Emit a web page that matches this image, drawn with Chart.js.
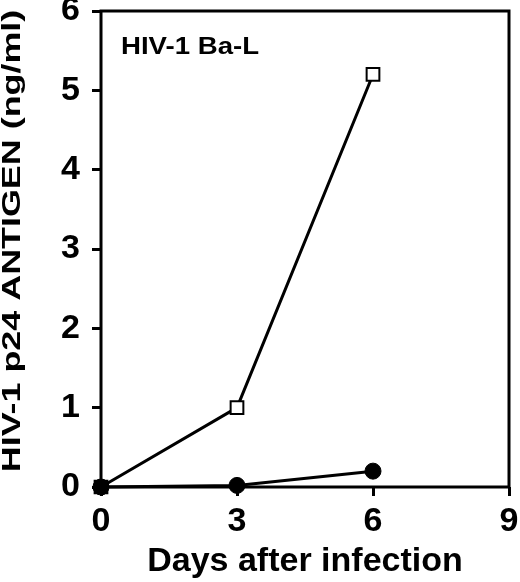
<!DOCTYPE html>
<html>
<head>
<meta charset="utf-8">
<script src="https://cdn.jsdelivr.net/npm/chart.js@4.4.1/dist/chart.umd.min.js"></script>
<style>
  html, body { margin: 0; padding: 0; background: #fff; }
  #wrap { width: 520px; height: 582px; }
</style>
</head>
<body>
<div id="wrap"><canvas id="c" width="520" height="582"></canvas></div>
<script>
// values
var days = [0, 3, 6];
var openSquares = [0, 1.0, 5.2];
var filledCircles = [0, 0.02, 0.2];
var xTickValues = [0, 3, 6, 9];
var yTickValues = [0, 1, 2, 3, 4, 5, 6];

var yTitle = 'HIV-1 p24 ANTIGEN (ng/ml)';
var xTitle = 'Days after infection';
var panelLabel = 'HIV-1 Ba-L';

var FONT = "'Liberation Sans', Arial, Helvetica, sans-serif";

function toPoints(ys) {
    return days.map((d, i) => ({ x: d, y: ys[i] }));
}

// box round the plot + stretched labels
var framePlugin = {
    id: 'frame',
    beforeDatasetsDraw(chart) {
        var a = chart.chartArea, ctx = chart.ctx;
        ctx.save();
        ctx.strokeStyle = '#000';
        ctx.lineWidth = 3;
        ctx.strokeRect(a.left, a.top, a.right - a.left, a.bottom - a.top);
        ctx.restore();
    },
    afterDraw(chart) {
        var a = chart.chartArea, ctx = chart.ctx;
        ctx.save();
        ctx.fillStyle = '#000';
        ctx.font = 'bold 24px ' + FONT;
        ctx.textBaseline = 'middle';
        ctx.translate(a.left + 20, a.top + 36);
        ctx.scale(1.15, 1);
        ctx.fillText(panelLabel, 0, 0);
        ctx.restore();

        ctx.save();
        ctx.fillStyle = '#000';
        ctx.font = 'bold 26px ' + FONT;
        ctx.textAlign = 'center';
        ctx.textBaseline = 'middle';
        ctx.translate(13, 241);
        ctx.rotate(-Math.PI / 2);
        ctx.scale(1.38, 1);
        ctx.fillText(yTitle, 0, 0);
        ctx.restore();
    }
};

new Chart(document.getElementById('c'), {
    type: 'line',
    data: {
        datasets: [{
            label: 'circles',
            data: toPoints(filledCircles),
            borderColor: '#000',
            backgroundColor: '#000',
            borderWidth: 3,
            pointStyle: 'circle',
            pointRadius: 8,
            pointBorderWidth: 1,
            clip: false,
            order: 0
        }, {
            label: 'squares',
            data: toPoints(openSquares),
            borderColor: '#000',
            backgroundColor: '#fff',
            borderWidth: 3,
            pointStyle: 'rect',
            pointRadius: 9,
            pointBorderWidth: 2,
            clip: false,
            order: 1
        }]
    },
    options: {
        responsive: false,
        animation: false,
        devicePixelRatio: 1,
        layout: { padding: { top: 11, right: 11, left: 0, bottom: 0 } },
        plugins: {
            legend: { display: false },
            tooltip: { enabled: false }
        },
        scales: {
            x: {
                type: 'linear',
                min: 0,
                max: 9,
                afterBuildTicks(s) { s.ticks = xTickValues.map(v => ({ value: v })); },
                afterFit(s) { s.height = 95; s.paddingLeft = 0; s.paddingRight = 0; },
                border: { display: false },
                grid: {
                    drawOnChartArea: false,
                    drawTicks: true,
                    tickLength: 9,
                    color: '#000',
                    lineWidth: 3
                },
                ticks: {
                    color: '#000',
                    padding: 5,
                    maxRotation: 0,
                    font: { family: FONT, size: 34, weight: 'bold' }
                },
                title: {
                    display: true,
                    text: xTitle,
                    color: '#000',
                    padding: { top: 0, bottom: 0 },
                    font: { family: FONT, size: 34, weight: 'bold' }
                }
            },
            y: {
                type: 'linear',
                min: 0,
                max: 6,
                afterBuildTicks(s) { s.ticks = yTickValues.map(v => ({ value: v })); },
                afterFit(s) { s.width = 101; s.paddingTop = 0; s.paddingBottom = 0; },
                border: { display: false },
                grid: {
                    drawOnChartArea: false,
                    drawTicks: true,
                    tickLength: 9,
                    color: '#000',
                    lineWidth: 3
                },
                ticks: {
                    color: '#000',
                    padding: 12,
                    font: { family: FONT, size: 34, weight: 'bold' }
                }
            }
        }
    },
    plugins: [framePlugin]
});
</script>
</body>
</html>
